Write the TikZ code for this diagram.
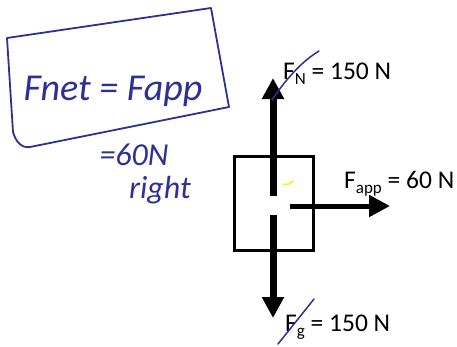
\documentclass[tikz,border=0pt]{standalone}
\usepackage{fontspec}
\setmainfont{Carlito}
\usetikzlibrary{arrows.meta}
\definecolor{ink}{RGB}{46,49,146}
\definecolor{hl}{RGB}{250,240,20}
\newcommand\lsub[1]{\raisebox{-5pt}{\fontsize{17}{17}\selectfont #1}}
\tikzset{
  force/.style={-{Triangle[length=21pt,width=21pt]}},
  lbl/.style={anchor=base west,inner sep=0pt,font=\fontsize{25.5}{25.5}\selectfont},
  hand/.style={text=ink,inner sep=0pt,font=\itshape},
  pen/.style={draw=ink,line width=1.8pt,line cap=round,line join=round}
}
\begin{document}
\begin{tikzpicture}[x=1pt,y=-1pt]
\useasboundingbox (0,0) rectangle (457,346);
% free body box
\node[draw,line width=3pt,minimum width=79pt,minimum height=94pt,inner sep=0pt] (box) at (274,203.5) {};
\coordinate (upS) at (273,196);
\coordinate (upE) at (273,78);
\coordinate (dnS) at (273,215);
\coordinate (dnE) at (273,318);
\coordinate (rtS) at (290,206);
\coordinate (rtE) at (390,206);
\draw[force,line width=7pt] (upS) -- (upE);
\draw[force,line width=7pt] (dnS) -- (dnE);
\draw[force,line width=5pt] (rtS) -- (rtE);
% labels
\node[lbl] (fn) at (283,79) {F\lsub{N} = 150 N};
\node[lbl] (fa) at (344,188) {F\lsub{app} = 60 N};
\node[lbl] (fg) at (285,331) {F\lsub{g} = 150 N};
% handwriting
\draw[pen] (7,38) -- (211,8) -- (229,107) -- (30,147) to[out=190,in=285] (13,132) -- cycle;
\node[hand,font=\itshape\fontsize{38}{38}\selectfont] (eq1) at (113,91) {Fnet = Fapp};
\node[hand,font=\itshape\fontsize{32}{32}\selectfont] (eq2) at (134,155) {=60N};
\node[hand,font=\itshape\fontsize{32}{32}\selectfont] (eq3) at (160,190) {right};
\draw[pen,line width=1.5pt] (272,100) .. controls (288,76) and (304,60) .. (319,51);
\draw[pen,line width=1.5pt] (278,344) -- (314,299);
\draw[hl,line width=1.5pt,line cap=round] (283,184) .. controls (288,185) .. (293,181);
\end{tikzpicture}
\end{document}
